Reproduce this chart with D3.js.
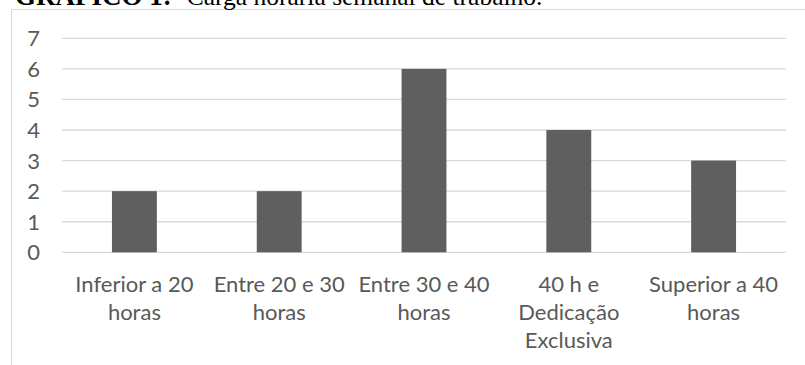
<!DOCTYPE html>
<html>
<head>
<meta charset="utf-8">
<script src="https://cdn.jsdelivr.net/npm/d3@7"></script>
<style>
  body { margin: 0; background: #fff; }
  svg { display: block; }
</style>
</head>
<body>
<script>
var width = 805,
    height = 365;

// data
var categories = ["Inferior a 20\nhoras", "Entre 20 e 30\nhoras", "Entre 30 e 40\nhoras", "40 h e\nDedicação\nExclusiva", "Superior a 40\nhoras"];
var values = [2, 2, 6, 4, 3];
var yTicks = [0, 1, 2, 3, 4, 5, 6, 7];

const svg = d3.select("body")
    .append("svg")
    .attr("width", width)
    .attr("height", height);

// chart frame (runs off the right and bottom edge like the cropped source)
svg.append("rect")
    .attr("x", 11.5)
    .attr("y", 9.5)
    .attr("width", width)
    .attr("height", height)
    .style("fill", "none")
    .style("stroke", "#d9d9d9");

// caption, cut at the top of the picture
var title = svg.append("text")
    .attr("x", 15)
    .attr("y", 4.5)
    .style("font-family", "'Liberation Serif', 'Times New Roman', serif")
    .style("fill", "#000");
title.append("tspan").style("font-weight", "bold").style("font-size", "27px").text("GRÁFICO 1:");
title.append("tspan").attr("dx", 15).style("font-size", "25.5px").text("Carga horária semanal de trabalho.");

var x = d3.scaleBand()
    .domain(categories)
    .range([62, 786])
    .paddingInner(0.69)
    .paddingOuter(0.345);

var y = d3.scaleLinear()
    .domain([0, 7])
    .range([252.3, 38.3]);

// gridlines
svg.append("g")
    .selectAll("line")
    .data(yTicks)
    .enter().append("line")
    .attr("x1", 62)
    .attr("x2", 786)
    .attr("y1", function (d) { return y(d); })
    .attr("y2", function (d) { return y(d); })
    .style("stroke", "#d9d9d9")
    .style("stroke-width", 1.3);

// y labels
svg.append("g")
    .selectAll("text")
    .data(yTicks)
    .enter().append("text")
    .attr("x", 40)
    .attr("y", function (d) { return y(d); })
    .attr("dy", "0.36em")
    .attr("text-anchor", "end")
    .style("font-family", "Lato, 'Open Sans', sans-serif")
    .style("font-size", "22px")
    .style("fill", "#595959")
    .text(function (d) { return d; });

// bars
svg.append("g")
    .selectAll("rect")
    .data(values)
    .enter().append("rect")
    .attr("x", function (d, i) { return x(categories[i]); })
    .attr("width", x.bandwidth())
    .attr("y", function (d) { return y(d); })
    .attr("height", function (d) { return y(0) - y(d); })
    .style("fill", "#5f5f5f");

// x labels
var labels = svg.append("g")
    .selectAll("text")
    .data(categories)
    .enter().append("text")
    .attr("x", function (d) { return x(d) + x.bandwidth() / 2; })
    .attr("y", 291.7)
    .attr("text-anchor", "middle")
    .style("font-family", "Lato, 'Open Sans', sans-serif")
    .style("font-size", "22px")
    .style("fill", "#595959");

labels.selectAll("tspan")
    .data(function (d) { return d.split("\n"); })
    .enter().append("tspan")
    .attr("x", function () { return d3.select(this.parentNode).attr("x"); })
    .attr("dy", function (d, i) { return i ? 28.3 : 0; })
    .text(function (d) { return d; });
</script>
</body>
</html>
